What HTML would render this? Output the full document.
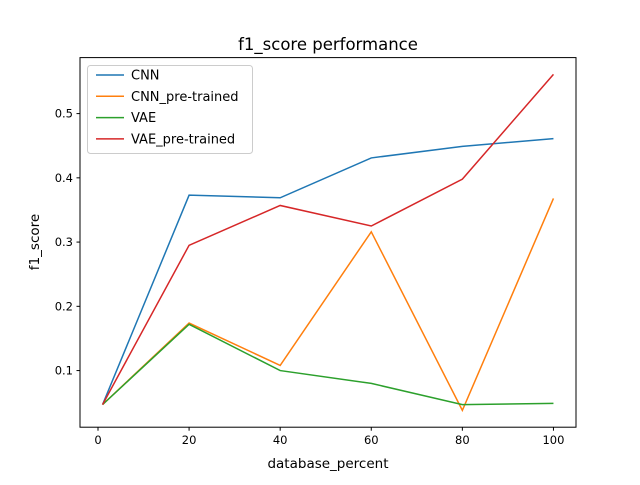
<!DOCTYPE html>
<html><head><meta charset="utf-8"><style>
body{margin:0;background:#fff}
svg text{font-family:"DejaVu Sans","Liberation Sans",sans-serif;fill:#000}
</style></head><body>
<svg id="chart" width="640" height="480" xmlns="http://www.w3.org/2000/svg">
<rect width="640" height="480" fill="#fff"/>
<text x="328" y="50" font-size="16.5" text-anchor="middle">f1_score performance</text>
<g id="marks"></g>
<rect x="80" y="57.6" width="496" height="369.6" fill="none" stroke="#000" stroke-width="1"/>
<g id="xt"></g><g id="yt"></g>
<text x="328" y="468" font-size="13.5" text-anchor="middle">database_percent</text>
<text transform="translate(39,242) rotate(-90)" font-size="13.5" text-anchor="middle">f1_score</text>
<g id="legend"></g>
</svg>
<script>
const categories=[1,20,40,60,80,100];
const cnn=[0.047,0.373,0.369,0.431,0.449,0.461];
const cnnPre=[0.047,0.174,0.108,0.316,0.038,0.368];
const vae=[0.047,0.172,0.100,0.080,0.047,0.049];
const vaePre=[0.047,0.295,0.357,0.325,0.398,0.561];
const seriesNames=["CNN","CNN_pre-trained","VAE","VAE_pre-trained"];
const xTicks=[0,20,40,60,80,100];
const yTicks=[0.1,0.2,0.3,0.4,0.5];
const colors=["#1f77b4","#ff7f0e","#2ca02c","#d62728"];
const NS="http://www.w3.org/2000/svg";
const all=[cnn,cnnPre,vae,vaePre];
const xmin0=Math.min(...categories),xmax0=Math.max(...categories);
const xm=(xmax0-xmin0)*0.05,X0=xmin0-xm,X1=xmax0+xm;
const flat=all.flat();const ymin0=Math.min(...flat),ymax0=Math.max(...flat);
const ym=(ymax0-ymin0)*0.05,Y0=ymin0-ym,Y1=ymax0+ym;
const L=80,R=576,T=57.6,B=427.2;
const sx=v=>L+(v-X0)/(X1-X0)*(R-L);
const sy=v=>B-(v-Y0)/(Y1-Y0)*(B-T);
function mk(tag,attrs,parent){const e=document.createElementNS(NS,tag);for(const k in attrs)e.setAttribute(k,attrs[k]);parent.appendChild(e);return e;}
const marks=document.getElementById('marks');
all.forEach((s,i)=>{
  const p=mk('polyline',{points:s.map((v,j)=>sx(categories[j])+','+sy(v)).join(' '),fill:'none',stroke:colors[i],'stroke-width':1.5},marks);
  
  
});
const xt=document.getElementById('xt');
xTicks.forEach(v=>{
  const x=sx(v);
  mk('line',{x1:x,x2:x,y1:B,y2:B+3.5,stroke:'#000'},xt);
  const t=mk('text',{x:x,y:B+17,'font-size':11.5,'text-anchor':'middle'},xt);t.textContent=v;
  
  
});
const yt=document.getElementById('yt');
yTicks.forEach(v=>{
  const y=sy(v);
  mk('line',{x1:L-3.5,x2:L,y1:y,y2:y,stroke:'#000'},yt);
  const t=mk('text',{x:L-7,y:y+4,'font-size':11.5,'text-anchor':'end'},yt);t.textContent=v.toFixed(1);
  
  
});
const lg=document.getElementById('legend');
mk('rect',{x:87.5,y:65.5,width:165,height:88,rx:3,fill:'#fff','fill-opacity':0.8,stroke:'#ccc'},lg);
seriesNames.forEach((n,i)=>{
  const y=75+i*21.3;
  mk('line',{x1:96,x2:124,y1:y,y2:y,stroke:colors[i],'stroke-width':1.5},lg);
  const t=mk('text',{x:131,y:y+4.5,'font-size':13},lg);t.textContent=n;
  
  
});
</script>
</body></html>
